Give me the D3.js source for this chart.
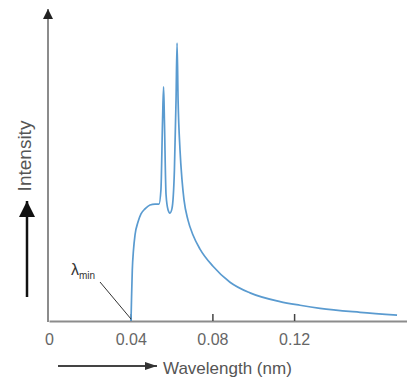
<!DOCTYPE html>
<html>
<head>
<meta charset="utf-8">
<script src="https://cdn.jsdelivr.net/npm/d3@7"></script>
<style>
  html, body { margin: 0; padding: 0; background: #fff; }
  svg { display: block; font-family: "Liberation Sans", Arial, sans-serif; }
</style>
</head>
<body>
<svg id="chart" width="407" height="378"></svg>
<script>
// wavelength (nm) and relative intensity
const wavelength = [0.04015, 0.04039, 0.04078, 0.04137, 0.04211, 0.04357, 0.04504, 0.047, 0.04945, 0.0519, 0.05386,
  0.0548, 0.0556, 0.0561, 0.0565, 0.0573, 0.0583, 0.0592, 0.0602, 0.0614,
  0.0622, 0.0627, 0.0632, 0.06414, 0.06512, 0.0661, 0.06805, 0.0705, 0.07393, 0.08029,
  0.08862, 0.09841, 0.1131, 0.1229, 0.1327, 0.1523, 0.1704];
const intensity = [0, 7.5, 18.1, 25.3, 30.6, 35.2, 38.1, 39.9, 41.3, 41.6, 41.6,
  46.6, 71.5, 83.3, 71.5, 45, 39.5, 38.4, 40, 53.7,
  78.6, 98.9, 78.6, 60.9, 50.2, 43.1, 35.9, 30.6, 25.6, 19.5,
  13.8, 10.0, 6.9, 5.6, 4.5, 3.1, 2.1];
const tick_values = [0, 0.04, 0.08, 0.12];
const lambda_min = 0.04015;

const svg = d3.select('#chart');

const x0 = 49, x1 = 407, y0 = 321;

const xScale = d3.scaleLinear()
  .domain([0, (x1 - x0) / 2042.5])
  .range([x0, x1]);

const yScale = d3.scaleLinear()
  .domain([0, 100])
  .range([y0, 40]);

const defs = svg.append('defs');
defs.append('marker')
  .attr('id', 'head_small')
  .attr('viewBox', '0 0 10 10')
  .attr('refX', 10).attr('refY', 5)
  .attr('markerWidth', 10).attr('markerHeight', 10)
  .attr('markerUnits', 'userSpaceOnUse')
  .attr('orient', 'auto')
  .append('path').attr('d', 'M0,0L10,5L0,10Z').attr('fill', '#222');
defs.append('marker')
  .attr('id', 'head_big')
  .attr('viewBox', '0 0 10 10')
  .attr('refX', 10).attr('refY', 5)
  .attr('markerWidth', 16).attr('markerHeight', 16)
  .attr('markerUnits', 'userSpaceOnUse')
  .attr('orient', 'auto')
  .append('path').attr('d', 'M0,0L10,5L0,10Z').attr('fill', '#111');
defs.append('marker')
  .attr('id', 'head_x')
  .attr('viewBox', '0 0 10 10')
  .attr('refX', 10).attr('refY', 5)
  .attr('markerWidth', 12).attr('markerHeight', 8)
  .attr('markerUnits', 'userSpaceOnUse')
  .attr('orient', 'auto')
  .attr('preserveAspectRatio', 'none')
  .append('path').attr('d', 'M0,0L10,5L0,10Z').attr('fill', '#333');

// x axis, ticks pointing up
const x_axis = d3.axisBottom(xScale)
  .tickValues(tick_values)
  .tickFormat((d) => (d === 0 ? '0' : d3.format('.2f')(d)))
  .tickSizeInner(-7)
  .tickSizeOuter(0)
  .tickPadding(13);

const gx = svg.append('g')
  .attr('transform', 'translate(0,' + y0 + ')')
  .call(x_axis);
gx.select('.domain').attr('stroke', '#8c8c8c').attr('stroke-width', 2);
gx.selectAll('.tick line').attr('stroke', '#444').attr('stroke-width', 1.5);
gx.selectAll('.tick').filter((d) => d === 0).select('line').remove();
gx.selectAll('.tick text')
  .attr('fill', '#666')
  .style('font-size', '16px')
  .style('font-family', '"Liberation Sans", Arial, sans-serif');

// y axis as a plain arrow
svg.append('line')
  .attr('x1', 48).attr('y1', y0 + 1)
  .attr('x2', 48).attr('y2', 9)
  .attr('stroke', '#8c8c8c').attr('stroke-width', 2)
  .attr('marker-end', 'url(#head_small)');

// the spectrum
const line = d3.line()
  .x((d, i) => xScale(wavelength[i]))
  .y((d, i) => yScale(intensity[i]))
  .curve(d3.curveMonotoneX);

svg.append('path')
  .datum(intensity)
  .attr('d', line)
  .attr('fill', 'none')
  .attr('stroke', '#5a9bd0')
  .attr('stroke-width', 1.7);

// lambda min pointer
svg.append('line')
  .attr('x1', 100).attr('y1', 282)
  .attr('x2', xScale(lambda_min)).attr('y2', y0 - 2)
  .attr('stroke', '#333').attr('stroke-width', 1);

const lam = svg.append('text')
  .attr('x', 71).attr('y', 275)
  .attr('fill', '#333')
  .style('font-size', '16px');
lam.append('tspan').text('λ');
lam.append('tspan').attr('dy', 4).style('font-size', '10px').text('min');

// axis labels
svg.append('text')
  .attr('transform', 'translate(31,156) rotate(-90)')
  .attr('text-anchor', 'middle')
  .attr('fill', '#555')
  .style('font-size', '19px')
  .text('Intensity');

svg.append('line')
  .attr('x1', 27).attr('y1', 297)
  .attr('x2', 27).attr('y2', 201)
  .attr('stroke', '#111').attr('stroke-width', 2.5)
  .attr('marker-end', 'url(#head_big)');

svg.append('line')
  .attr('x1', 58).attr('y1', 366)
  .attr('x2', 157).attr('y2', 366)
  .attr('stroke', '#444').attr('stroke-width', 2)
  .attr('marker-end', 'url(#head_x)');

svg.append('text')
  .attr('x', 163).attr('y', 374)
  .attr('fill', '#555')
  .style('font-size', '17px')
  .text('Wavelength (nm)');
</script>
</body>
</html>
